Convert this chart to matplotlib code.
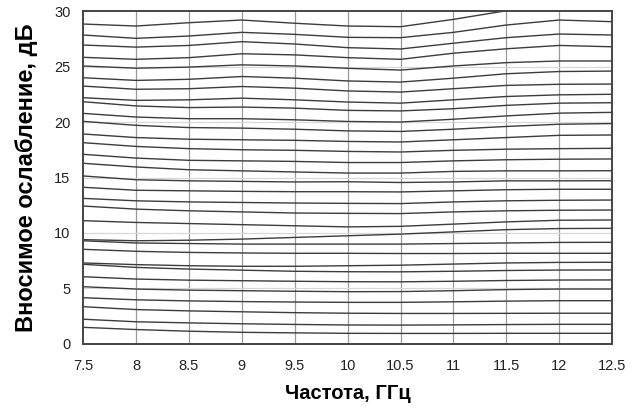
import matplotlib
matplotlib.use("Agg")
import matplotlib.pyplot as plt

plt.rcParams['font.family'] = ['Liberation Sans', 'DejaVu Sans']

freq = [7.5, 8, 8.5, 9, 9.5, 10, 10.5, 11, 11.5, 12, 12.5]

s31 = [28.83, 28.65, 28.95, 29.19, 28.90, 28.65, 28.59, 29.25, 30.03, 30.40, 30.30]
s30 = [27.84, 27.54, 27.75, 28.08, 27.90, 27.63, 27.60, 28.08, 28.74, 29.19, 29.04]
s29 = [26.94, 26.75, 26.90, 27.24, 27.03, 26.70, 26.58, 27.10, 27.60, 27.93, 27.84]
s28 = [25.83, 25.65, 25.80, 26.15, 26.05, 25.80, 25.65, 26.20, 26.60, 26.90, 26.78]
s27 = [25.05, 24.85, 24.95, 25.15, 25.05, 24.84, 24.68, 25.05, 25.35, 25.50, 25.50]
s26 = [23.99, 23.75, 23.85, 24.10, 23.95, 23.70, 23.60, 23.95, 24.35, 24.55, 24.59]
s25 = [23.24, 22.95, 23.00, 23.20, 23.05, 22.80, 22.70, 23.00, 23.30, 23.40, 23.42]
s24 = [22.19, 21.95, 22.00, 22.15, 22.00, 21.80, 21.70, 22.00, 22.30, 22.45, 22.50]
s23 = [21.83, 21.45, 21.30, 21.35, 21.25, 21.05, 21.00, 21.20, 21.50, 21.70, 21.74]
s22 = [20.78, 20.45, 20.30, 20.30, 20.20, 20.05, 20.00, 20.25, 20.55, 20.80, 20.87]
s21 = [20.06, 19.70, 19.50, 19.45, 19.35, 19.20, 19.15, 19.35, 19.60, 19.80, 19.86]
s20 = [18.92, 18.60, 18.45, 18.40, 18.35, 18.25, 18.20, 18.40, 18.60, 18.80, 18.83]
s19 = [18.14, 17.80, 17.60, 17.50, 17.45, 17.35, 17.30, 17.45, 17.55, 17.60, 17.63]
s18 = [17.09, 16.75, 16.55, 16.50, 16.45, 16.35, 16.35, 16.50, 16.60, 16.65, 16.67]
s17 = [16.28, 15.95, 15.70, 15.60, 15.50, 15.40, 15.40, 15.55, 15.60, 15.60, 15.61]
s16 = [15.14, 14.80, 14.70, 14.65, 14.60, 14.62, 14.55, 14.60, 14.70, 14.70, 14.71]
s15 = [14.12, 13.85, 13.80, 13.75, 13.72, 13.72, 13.70, 13.80, 13.90, 13.94, 13.94]
s14 = [13.12, 12.90, 12.80, 12.75, 12.70, 12.67, 12.65, 12.80, 12.90, 12.95, 12.97]
s13 = [12.43, 12.15, 12.00, 11.90, 11.80, 11.77, 11.75, 11.90, 12.00, 12.05, 12.07]
s12 = [11.11, 10.95, 10.85, 10.75, 10.65, 10.55, 10.60, 10.80, 11.00, 11.15, 11.17]
s11 = [9.40, 9.30, 9.35, 9.45, 9.60, 9.75, 9.90, 10.10, 10.30, 10.40, 10.42]
s10 = [9.30, 9.10, 9.05, 9.00, 9.00, 9.00, 9.00, 9.05, 9.10, 9.15, 9.16]
s9 = [8.53, 8.35, 8.25, 8.20, 8.17, 8.17, 8.15, 8.15, 8.17, 8.17, 8.17]
s8 = [7.30, 7.15, 7.05, 7.00, 7.00, 7.05, 7.10, 7.20, 7.30, 7.35, 7.36]
s7 = [7.18, 6.90, 6.75, 6.65, 6.55, 6.51, 6.50, 6.55, 6.62, 6.66, 6.67]
s6 = [6.06, 5.85, 5.75, 5.70, 5.65, 5.61, 5.60, 5.65, 5.72, 5.76, 5.77]
s5 = [5.16, 4.95, 4.85, 4.80, 4.75, 4.71, 4.72, 4.80, 4.90, 4.95, 4.95]
s4 = [4.17, 3.98, 3.88, 3.82, 3.78, 3.75, 3.75, 3.80, 3.86, 3.90, 3.90]
s3 = [3.36, 3.10, 2.98, 2.90, 2.82, 2.77, 2.75, 2.75, 2.76, 2.77, 2.77]
s2 = [2.23, 2.00, 1.90, 1.82, 1.76, 1.71, 1.70, 1.72, 1.75, 1.77, 1.77]
s1 = [1.50, 1.30, 1.15, 1.05, 1.00, 0.96, 0.95, 0.95, 0.96, 0.96, 0.96]

series = [s1, s2, s3, s4, s5, s6, s7, s8, s9, s10, s11, s12, s13, s14, s15, s16,
          s17, s18, s19, s20, s21, s22, s23, s24, s25, s26, s27, s28, s29, s30, s31]

xticks = [7.5, 8, 8.5, 9, 9.5, 10, 10.5, 11, 11.5, 12, 12.5]
xticklabels = ['7.5', '8', '8.5', '9', '9.5', '10', '10.5', '11', '11.5', '12', '12.5']
yticks = [0, 5, 10, 15, 20, 25, 30]

fig = plt.figure(figsize=(6.39, 4.09), dpi=100)
ax = fig.add_axes([0.130, 0.159, 0.828, 0.814])

for x in xticks[1:-1]:
    ax.axvline(x, color='#9a9a9a', lw=0.9, zorder=1)
for y in yticks[1:-1]:
    ax.axhline(y, color='#d8d8d8', lw=0.9, zorder=1)

for s in series:
    ax.plot(freq, s, color='#3c3c3c', lw=1.0, zorder=2)

ax.set_xlim(7.5, 12.5)
ax.set_ylim(0, 30)
ax.set_xticks(xticks)
ax.set_xticklabels(xticklabels)
ax.set_yticks(yticks)
ax.tick_params(length=0, labelsize=10.5, colors='#222222')
ax.tick_params(axis='y', pad=9)
ax.tick_params(axis='x', pad=11)

for side, sp in ax.spines.items():
    sp.set_color('#444444')
    sp.set_linewidth(1.4)
    sp.set_zorder(3)

ax.set_xlabel('Частота, ГГц', fontsize=14.5, fontweight='bold', labelpad=8)
ax.set_ylabel('Вносимое ослабление, дБ', fontsize=17, fontweight='bold', labelpad=12)

fig.savefig('out.png', dpi=100)
